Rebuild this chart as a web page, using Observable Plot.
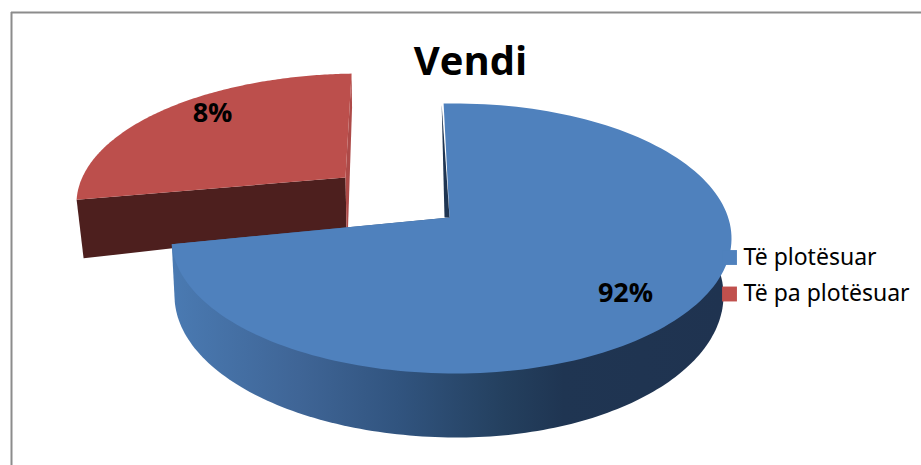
<!DOCTYPE html>
<html>
<head>
<meta charset="utf-8">
<script src="https://cdn.jsdelivr.net/npm/d3@7"></script>
<script src="https://cdn.jsdelivr.net/npm/@observablehq/plot@0.6"></script>
<style>
html,body{margin:0;padding:0;background:#fff;overflow:hidden}
svg{display:block}
</style>
</head>
<body>
<div id="chart"></div>
<script>
// ---- data ----
const title = "Vendi";
const categories = ["Të plotësuar", "Të pa plotësuar"];
const labelValues = [92, 8];          // printed percentages
const drawnShares = [75, 24];         // share of the circle each slice visibly occupies
const colors = ["#4f81bd", "#c0504d"];

// ---- layout of the 3D projection (not data) ----
const W = 921, H = 465;
const startAngle = -2.4, gapAngle = 4;
const rad = Math.PI / 180;
const blueTop   = {cx: 455, cy: 238, rl: 284, rr: 276, ry: 135};
const blueFloor = {cx: 457, cy: 295, rl: 283, rr: 266, ry: 142};
const redTop    = {cx: 361, cy: 203, rl: 285, rr: 282, ry: 130};
const redFloor  = {cx: 358, cy: 261.5, rl: 275, rr: 275, ry: 130};
const blueApex = {x: 449, y: 217}, blueInner = {x: 444, y: 217};
const redApex = {x: 345, y: 177}, redApexFloor = {x: 346, y: 228};

const rim = (e, t) => {
  const s = Math.sin(t * rad);
  return {x: e.cx + (s < 0 ? e.rl : e.rr) * s, y: e.cy - e.ry * Math.cos(t * rad)};
};
const arc = (e, a, b, n = 160) => d3.range(n + 1).map(i => rim(e, a + (b - a) * i / n));

const sweep = drawnShares.map(v => v * 3.6);
const blueStart = startAngle, blueEnd = blueStart + sweep[0];
const redStart = blueEnd + gapAngle, redEnd = redStart + sweep[1];

const blueSurface = [blueApex, ...arc(blueTop, blueStart, blueEnd)];
const blueWall = [blueApex, ...arc(blueFloor, 60, blueEnd), rim(blueTop, blueEnd)];
const blueCut = [rim(blueTop, blueStart - 0.4), blueInner, blueApex];
const redSurface = [redApex, ...arc(redTop, redStart, redEnd)];
const redWall = [rim(redTop, redStart), redApex, redApexFloor, rim(redFloor, redStart)];
const redEdge = [rim(redTop, redEnd), redApex, redApexFloor, {x: redApexFloor.x + 1.5, y: redApexFloor.y}, {x: rim(redTop, redEnd).x + 0.5, y: redApex.y - 70}];

const poly = (pts, fill) => Plot.line(pts, {x: "x", y: "y", fill, stroke: "none"});

const gradient = () => {
  const defs = d3.create("svg:defs");
  const g = defs.append("linearGradient").attr("id", "wall").attr("x1", 0).attr("x2", 1).attr("y1", 0).attr("y2", 0);
  [[0, "#4a7ab2"], [0.23, "#3f6596"], [0.41, "#31547f"], [0.6, "#24405f"], [0.71, "#1f3552"], [1, "#1f3350"]]
    .forEach(([o, c]) => g.append("stop").attr("offset", o).attr("stop-color", c));
  return defs.node();
};

const legendRows = categories.map((name, i) => ({name, color: colors[i], y: [257, 293.5][i]}));
const sliceLabels = [
  {text: labelValues[0] + "%", x: 625, y: 293},
  {text: labelValues[1] + "%", x: 212, y: 113}
];

const chart = Plot.plot({
  width: W, height: H,
  marginTop: 0, marginRight: 0, marginBottom: 0, marginLeft: 0,
  x: {domain: [0, W], axis: null},
  y: {domain: [H, 0], axis: null},
  style: {background: "#fff"},
  marks: [
    gradient,
    Plot.ruleX([11], {y1: 12, y2: H, stroke: "#8c8c8c", strokeWidth: 2}),
    Plot.ruleY([12], {x1: 11, x2: W, stroke: "#8c8c8c", strokeWidth: 2}),
    poly(redWall, "#4d1f1e"),
    poly(redEdge, "#ad4a48"),
    poly(redSurface, "#bc4f4c"),
    poly(blueWall, "url(#wall)"),
    poly(blueSurface, colors[0]),
    poly(blueCut, "#1f3552"),
    Plot.text([title], {text: d => d, x: 470, y: 62, fontFamily: "Open Sans", fontWeight: 700, fontSize: 40, fill: "#000"}),
    Plot.text(sliceLabels, {x: "x", y: "y", text: "text", fontFamily: "Open Sans", fontWeight: 700, fontSize: 27, fill: "#000"}),
    Plot.dot(legendRows, {x: 729, y: "y", symbol: "square", r: 8.4, fill: "color", stroke: "none"}),
    Plot.text(legendRows, {x: 743, y: "y", text: "name", textAnchor: "start", fontFamily: "Noto Sans", fontSize: 23, fill: "#000"})
  ]
});
document.getElementById("chart").append(chart);
</script>
</body>
</html>
